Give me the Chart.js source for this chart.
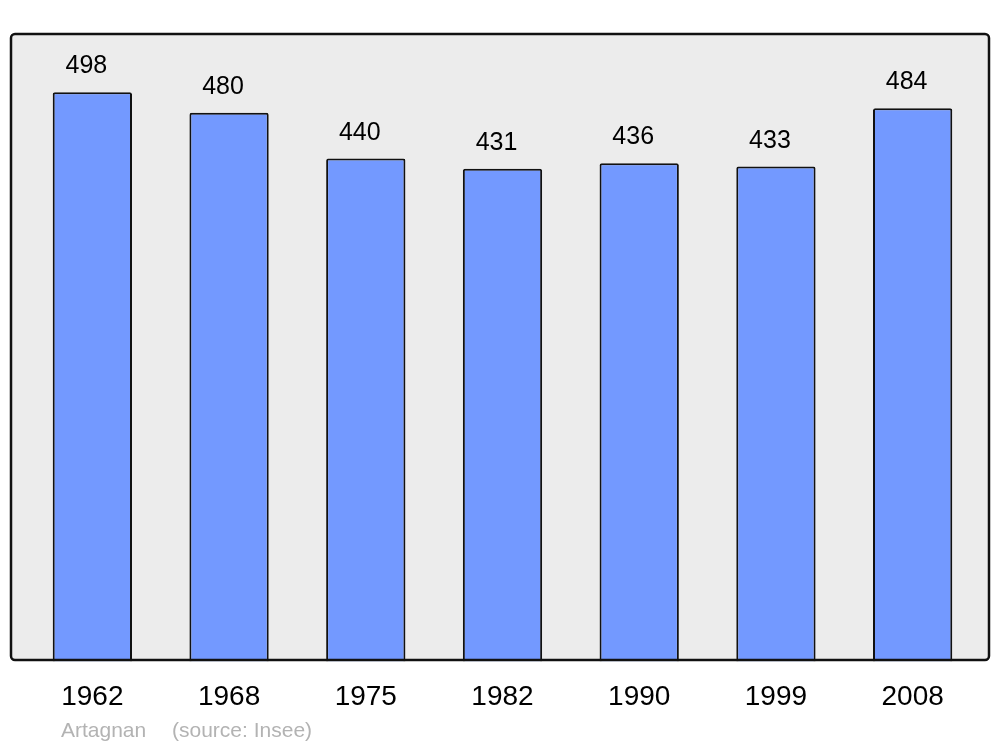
<!DOCTYPE html>
<html>
<head>
<meta charset="utf-8">
<script src="https://cdn.jsdelivr.net/npm/chart.js@4"></script>
<style>
  html, body { margin: 0; padding: 0; background: #fff; }
  #wrap { width: 1000px; height: 747px; position: relative; }
</style>
</head>
<body>
<div id="wrap"><canvas id="chart" width="1000" height="747"></canvas></div>
<script>
// data
const years = ['1962', '1968', '1975', '1982', '1990', '1999', '2008']
const population = [498, 480, 440, 431, 436, 433, 484]
const footerText = ['Artagnan', '(source: Insee)']

// frame behind the bars + value labels + footer
const decorations = {
  id: 'decorations',
  beforeDraw(chart) {
    const ctx = chart.ctx
    ctx.save()
    ctx.beginPath()
    ctx.roundRect(11, 34, 978, 626, 4)
    ctx.fillStyle = '#ececec'
    ctx.fill()
    ctx.restore()
  },
  afterDatasetsDraw(chart) {
    const ctx = chart.ctx
    ctx.save()
    ctx.beginPath()
    ctx.roundRect(11, 34, 978, 626, 4)
    ctx.lineWidth = 2.5
    ctx.strokeStyle = '#111'
    ctx.stroke()

    ctx.fillStyle = '#000'
    ctx.font = '25px "Liberation Sans", Arial, sans-serif'
    ctx.textAlign = 'center'
    ctx.textBaseline = 'alphabetic'
    const meta = chart.getDatasetMeta(0)
    meta.data.forEach((bar, i) => {
      ctx.fillText(population[i], bar.x - 6, bar.y - 19)
    })

    ctx.fillStyle = '#b3b3b3'
    ctx.font = '21px "Liberation Sans", Arial, sans-serif'
    ctx.textAlign = 'left'
    ctx.fillText(footerText[0], 61, 737)
    ctx.fillText(footerText[1], 172, 737)
    ctx.restore()
  }
}

new Chart('chart', {
  type: 'bar',
  data: {
    labels: years,
    datasets: [{
      data: population,
      backgroundColor: '#7399ff',
      borderColor: '#111',
      borderWidth: 2,
      borderSkipped: 'bottom',
      borderRadius: { topLeft: 2, topRight: 2 },
      barPercentage: 0.58,
      categoryPercentage: 1
    }]
  },
  options: {
    responsive: false,
    animation: false,
    layout: { padding: { left: 24, right: 19, top: 34, bottom: 22 } },
    plugins: { legend: { display: false }, tooltip: { enabled: false } },
    scales: {
      x: {
        grid: { display: false },
        border: { display: false },
        ticks: {
          color: '#000',
          padding: 11,
          font: { size: 28, family: '"Liberation Sans", Arial, sans-serif' }
        }
      },
      y: {
        display: false,
        min: 0,
        max: 549
      }
    }
  },
  plugins: [decorations]
})
</script>
</body>
</html>
